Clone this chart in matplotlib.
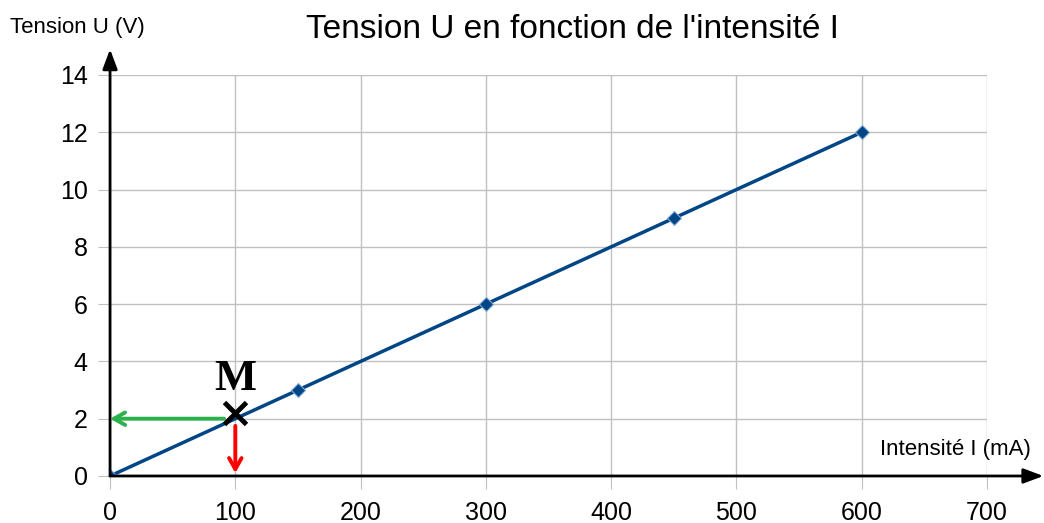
import matplotlib
matplotlib.use('Agg')
import matplotlib.pyplot as plt

# mesures
intensite = [0, 150, 300, 450, 600]
tension = [0, 3, 6, 9, 12]
point_M = (100, 2.2)
x_ticks = [0, 100, 200, 300, 400, 500, 600, 700]
y_ticks = [0, 2, 4, 6, 8, 10, 12, 14]

plt.rcParams['font.family'] = ['Liberation Sans', 'DejaVu Sans']

fig = plt.figure(figsize=(10.44, 5.23), dpi=100)
ax = fig.add_axes([0.1054, 0.0899, 0.8400, 0.7667])
ax.set_xlim(0, 700)
ax.set_ylim(0, 14)
ax.set_xticks(x_ticks)
ax.set_yticks(y_ticks)
ax.grid(True, color='#c0c0c0', linewidth=1)
ax.set_axisbelow(True)
for s in ax.spines.values():
    s.set_visible(False)
ax.tick_params(length=9, color='#c0c0c0', labelsize=18)
ax.tick_params(axis='x', pad=9)
ax.tick_params(axis='y', pad=7)

ax.plot(intensite, tension, color='#004586', linewidth=2.5, marker='D',
        markersize=7, markerfacecolor='#004586', markeredgecolor='#83a9d6',
        markeredgewidth=0.8, zorder=3)

# axes fléchés
ax.annotate('', xy=(745, 0), xytext=(0, 0), annotation_clip=False,
            arrowprops=dict(arrowstyle='-|>,head_length=1.2,head_width=0.45',
                            color='black', lw=2, shrinkA=0, shrinkB=0))
ax.annotate('', xy=(0, 14.9), xytext=(0, 0), annotation_clip=False,
            arrowprops=dict(arrowstyle='-|>,head_length=1.2,head_width=0.45',
                            color='black', lw=2, shrinkA=0, shrinkB=0))

# point M et projections
ax.plot(*point_M, marker='x', color='black', markersize=16, markeredgewidth=3.5, zorder=5)
ax.text(point_M[0], point_M[1] + 0.5, 'M', family='Liberation Serif', fontweight='bold',
        fontsize=32, ha='center', va='bottom')
ax.annotate('', xy=(0, 2), xytext=(91, 2),
            arrowprops=dict(arrowstyle='->,head_length=0.8,head_width=0.45',
                            color='#2bb24c', lw=2.8, shrinkA=0, shrinkB=0))
ax.annotate('', xy=(100, 0.1), xytext=(100, 1.75),
            arrowprops=dict(arrowstyle='->,head_length=0.8,head_width=0.45',
                            color='#ff0000', lw=2.8, shrinkA=0, shrinkB=0))

fig.text(0.548, 0.943, "Tension U en fonction de l'intensité I", fontsize=24,
         ha='center', va='center')
fig.text(0.010, 0.947, 'Tension U (V)', fontsize=16, ha='left', va='center')
fig.text(0.987, 0.140, 'Intensité I (mA)', fontsize=16, ha='right', va='center')

fig.savefig('out.png', dpi=100)
